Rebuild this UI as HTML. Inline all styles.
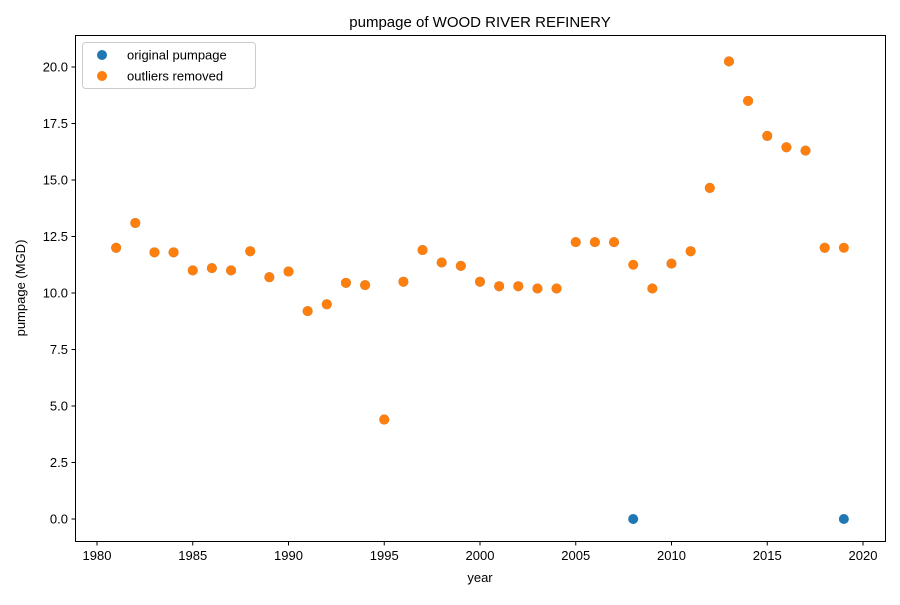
<!DOCTYPE html>
<html><head><meta charset="utf-8"><style>
body{margin:0;background:#fff;}
svg{font-family:"Liberation Sans","DejaVu Sans",sans-serif;}
</style></head><body>
<svg id="chart" width="900" height="600">
<rect x="0" y="0" width="900" height="600" fill="#fff"/>
<text x="480" y="27" font-size="15" text-anchor="middle">pumpage of WOOD RIVER REFINERY</text>
<g id="marks"></g>
<g id="axes"></g>
<rect x="75.5" y="35.5" width="810" height="506" fill="none" stroke="#000" stroke-width="1"/>
<text x="480" y="582" font-size="13" text-anchor="middle">year</text>
<text x="0" y="0" font-size="13" text-anchor="middle" transform="translate(25,288) rotate(-90)">pumpage (MGD)</text>
<g>
<rect x="82.5" y="42.5" width="173" height="46" rx="3" fill="#fff" stroke="#ccc"/>
<circle cx="102" cy="55" r="5" fill="#1f77b4"/>
<text x="127" y="59.5" font-size="13">original pumpage</text>
<circle cx="102" cy="76" r="5" fill="#ff7f0e"/>
<text x="127" y="80.5" font-size="13">outliers removed</text>
</g>
</svg>
<script>
const years = [1981,1982,1983,1984,1985,1986,1987,1988,1989,1990,1991,1992,1993,1994,1995,1996,1997,1998,1999,2000,2001,2002,2003,2004,2005,2006,2007,2008,2009,2010,2011,2012,2013,2014,2015,2016,2017,2018,2019];
const originalPumpage = [12.0,13.1,11.8,11.8,11.0,11.1,11.0,11.85,10.7,10.95,9.2,9.5,10.45,10.35,4.4,10.5,11.9,11.35,11.2,10.5,10.3,10.3,10.2,10.2,12.25,12.25,12.25,0,10.2,11.3,11.85,14.65,20.25,18.5,16.95,16.45,16.3,12.0,0];
const outliersRemoved = [12.0,13.1,11.8,11.8,11.0,11.1,11.0,11.85,10.7,10.95,9.2,9.5,10.45,10.35,4.4,10.5,11.9,11.35,11.2,10.5,10.3,10.3,10.2,10.2,12.25,12.25,12.25,11.25,10.2,11.3,11.85,14.65,20.25,18.5,16.95,16.45,16.3,12.0,12.0];
const xTicks = [1980,1985,1990,1995,2000,2005,2010,2015,2020];
const yTicks = [0.0,2.5,5.0,7.5,10.0,12.5,15.0,17.5,20.0];

const NS="http://www.w3.org/2000/svg";
function xs(v){return 97+(v-1980)*(766/40);}
function ys(v){return 519-v*22.6;}
const marks=document.getElementById('marks');
const axes=document.getElementById('axes');
function mk(tag,attrs,parent){const e=document.createElementNS(NS,tag);for(const k in attrs)e.setAttribute(k,attrs[k]);parent.appendChild(e);return e;}
years.forEach((y,i)=>{
  const c=mk('circle',{cx:xs(y),cy:ys(originalPumpage[i]),r:5,fill:'#1f77b4'},marks);
  
  
});
years.forEach((y,i)=>{
  const c=mk('circle',{cx:xs(y),cy:ys(outliersRemoved[i]),r:5,fill:'#ff7f0e'},marks);
  
  
});
xTicks.forEach(t=>{
  const x=xs(t);
  const l=mk('line',{x1:x,x2:x,y1:541.5,y2:545.5,stroke:'#000'},axes);
  
  
  const tx=mk('text',{x:x,y:560,'font-size':13,'text-anchor':'middle'},axes);
  tx.textContent=t;
  
  
});
yTicks.forEach(t=>{
  const y=ys(t);
  const l=mk('line',{x1:71.5,x2:75.5,y1:y,y2:y,stroke:'#000'},axes);
  
  
  const tx=mk('text',{x:68,y:y+4.5,'font-size':13,'text-anchor':'end'},axes);
  tx.textContent=t.toFixed(1);
  
  
});
</script>
</body></html>
